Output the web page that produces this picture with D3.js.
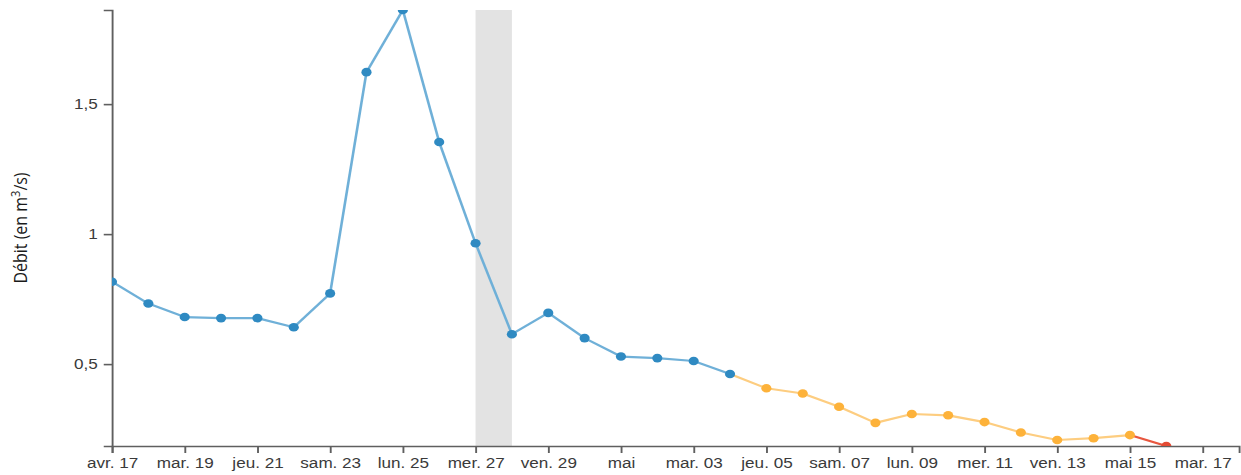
<!DOCTYPE html>
<html><head><meta charset="utf-8">
<script src="https://cdn.jsdelivr.net/npm/d3@7"></script>
<style>
html,body{margin:0;padding:0;background:#fff;}
svg{display:block;}
</style></head>
<body>
<svg id="chart"></svg>
<script>
// ---- data ----
const dayOffsets = [0,1,2,3,4,5,6,7,8,9,10,11,12,13,14,15,16,17,18,19,20,21,22,23,24,25,26,27,28,29];
const values = [0.817,0.733,0.681,0.677,0.677,0.642,0.772,1.623,1.862,1.354,0.965,0.615,0.697,0.600,0.529,0.523,0.512,0.462,0.407,0.387,0.336,0.274,0.308,0.303,0.277,0.237,0.208,0.215,0.227,0.185];
const statuses = ["obs","obs","obs","obs","obs","obs","obs","obs","obs","obs","obs","obs","obs","obs","obs","obs","obs","obs","prev","prev","prev","prev","prev","prev","prev","prev","prev","prev","prev","alert"];
const xTickLabels = ["avr. 17","mar. 19","jeu. 21","sam. 23","lun. 25","mer. 27","ven. 29","mai","mar. 03","jeu. 05","sam. 07","lun. 09","mer. 11","ven. 13","mai 15","mar. 17"];
const xTickOffsets = [0,2,4,6,8,10,12,14,16,18,20,22,24,26,28,30];
const yTickValues = [0.5,1,1.5];
const yTickLabels = ["0,5","1","1,5"];
const bandOffsets = [10,11];
const domainEndOffset = 31;

const lineColors = {obs:"#6fb0d8", prev:"#fdcd80", alert:"#e8573f"};
const dotColors = {obs:"#2f8ac2", prev:"#fdb23a", alert:"#e34a33"};

const day0 = new Date(2022,3,17);
const toDate = o => d3.timeDay.offset(day0, o);
const data = dayOffsets.map((o,i)=>({date:toDate(o), value:values[i], status:statuses[i]}));

// ---- layout (stretched horizontally like the reference) ----
const W = 1241, H = 475, S = 1.18;
const VW = W / S;
const mLeft = 112 / S, mRight = 1239 / S, mTop = 10, mBottom = 446;

const svg = d3.select("#chart").attr("width", W).attr("height", H)
  .attr("viewBox", `0 0 ${VW} ${H}`).attr("preserveAspectRatio","none");

const x = d3.scaleTime().domain([day0, toDate(domainEndOffset)]).range([mLeft, mRight]);
const y = d3.scaleLinear().domain(d3.extent(values)).range([mBottom, mTop]);

svg.append("defs").append("clipPath").attr("id","clip")
  .append("rect").attr("x", mLeft).attr("y", mTop).attr("width", mRight-mLeft).attr("height", mBottom-mTop);

// band
svg.append("rect")
  .attr("x", x(toDate(bandOffsets[0]))).attr("y", mTop)
  .attr("width", x(toDate(bandOffsets[1])) - x(toDate(bandOffsets[0])))
  .attr("height", mBottom - mTop).attr("fill", "#e3e3e3");

// axes
const xAxis = d3.axisBottom(x)
  .tickValues(xTickOffsets.map(toDate))
  .tickFormat((d,i)=>xTickLabels[i]).tickSize(7).tickSizeOuter(7).tickPadding(5);
const gx = svg.append("g").attr("transform", `translate(0,${mBottom})`).call(xAxis);

const yAxis = d3.axisLeft(y).tickValues(yTickValues)
  .tickFormat((d,i)=>yTickLabels[i]).tickSize(7).tickSizeOuter(7).tickPadding(5);
const gy = svg.append("g").attr("transform", `translate(${mLeft},0)`).call(yAxis);

[gx, gy].forEach(g=>{
  g.selectAll("path.domain").attr("stroke","#5f5f5f").attr("stroke-width",1.6);
  g.selectAll(".tick line").attr("stroke","#5f5f5f").attr("stroke-width",1.6);
  g.selectAll(".tick text").attr("fill","#3a3a3a")
    .style("font-family","'Liberation Sans', Arial, sans-serif").style("font-size","14.5px");
});

// y label
const yl = svg.append("text")
  .attr("transform", `translate(${27/S},228) rotate(-90)`)
  .attr("text-anchor","middle")
  .style("font-family","'Open Sans', sans-serif").style("font-size","16px").attr("fill","#1a1a1a");
yl.append("tspan").text("Débit (en m");
yl.append("tspan").text("3").attr("dy", -6).style("font-size","11px");
yl.append("tspan").text("/s)").attr("dy", 6);

// lines & dots
const plot = svg.append("g").attr("clip-path","url(#clip)");
const line = d3.line().x(d=>x(d.date)).y(d=>y(d.value));
const segs = d3.pairs(data);
plot.selectAll("path.seg").data(segs).join("path")
  .attr("class","seg")
  .attr("d", p=>line(p))
  .attr("fill","none")
  .attr("stroke", p=>lineColors[p[1].status])
  .attr("stroke-width", 2.2);

plot.selectAll("circle").data(data).join("circle")
  .attr("cx", d=>x(d.date)).attr("cy", d=>y(d.value)).attr("r", 4.3)
  .attr("fill", d=>dotColors[d.status]);
</script>
</body></html>
